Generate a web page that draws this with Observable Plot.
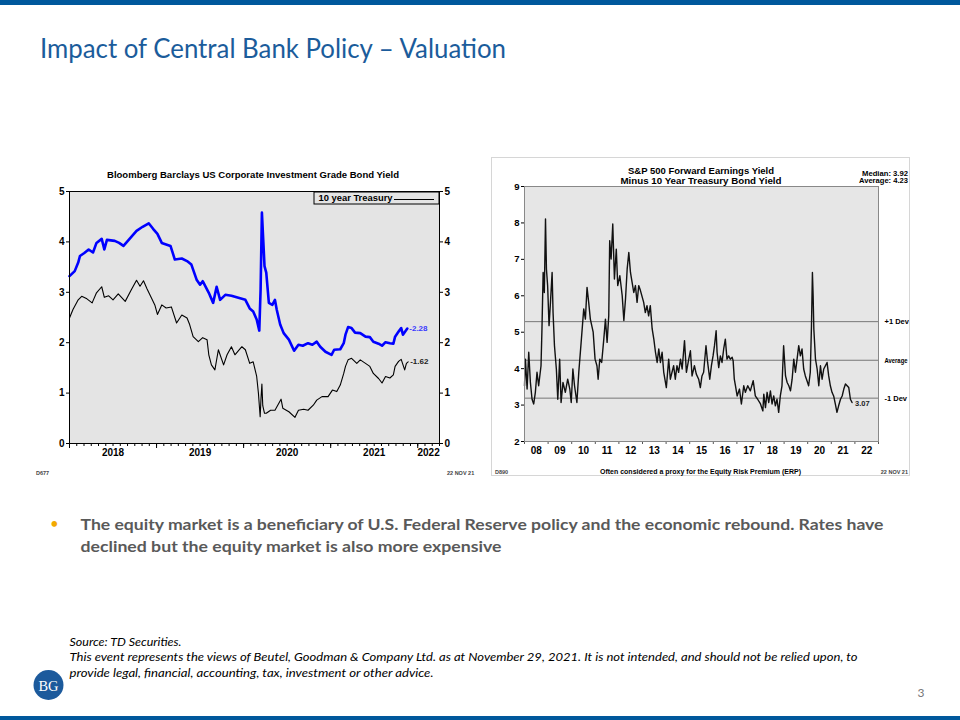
<!DOCTYPE html>
<html><head><meta charset="utf-8">
<script src="https://cdn.jsdelivr.net/npm/d3@7"></script>
<script src="https://cdn.jsdelivr.net/npm/@observablehq/plot@0.6"></script>
<style>
body{margin:0;background:#fff;}
#slide{position:relative;width:960px;height:720px;overflow:hidden;background:#fff;}
.abs{position:absolute;}
</style></head><body>
<div id="slide">
  <div class="abs" style="left:0;top:0;width:960px;height:5px;background:#00589c"></div>
  <div class="abs" style="left:0;top:716px;width:960px;height:4px;background:#00589c"></div>
  <div id="left" class="abs" style="left:30px;top:160px;width:430px;height:320px"></div>
  <div id="right" class="abs" style="left:491px;top:157px;width:419px;height:319px"></div>
  <svg id="overlay" class="abs" style="left:0;top:0" width="960" height="720"></svg>
</div>
<script>
// ---------- Left chart data: Bloomberg Barclays US Corporate IG Bond Yield vs 10y Treasury ----------
const corpDates = [2018.00,2018.06,2018.10,2018.12,2018.17,2018.22,2018.27,2018.31,2018.37,2018.40,2018.43,2018.52,2018.57,2018.62,2018.71,2018.77,2018.84,2018.91,2018.96,2019.01,2019.06,2019.16,2019.21,2019.29,2019.35,2019.40,2019.46,2019.50,2019.53,2019.60,2019.65,2019.69,2019.73,2019.79,2019.86,2019.94,2020.02,2020.07,2020.11,2020.15,2020.18,2020.195,2020.21,2020.225,2020.24,2020.26,2020.29,2020.33,2020.36,2020.38,2020.42,2020.46,2020.52,2020.58,2020.63,2020.68,2020.74,2020.79,2020.84,2020.88,2020.94,2021.01,2021.04,2021.11,2021.15,2021.17,2021.20,2021.24,2021.28,2021.34,2021.40,2021.45,2021.49,2021.55,2021.59,2021.63,2021.68,2021.72,2021.74,2021.78,2021.81,2021.83,2021.88];
const corpYield = [3.32,3.42,3.59,3.72,3.78,3.85,3.79,3.98,4.06,3.85,4.04,4.02,3.98,3.92,4.10,4.22,4.30,4.37,4.26,4.16,3.98,3.92,3.65,3.67,3.62,3.55,3.25,3.15,3.22,2.99,2.79,3.11,2.85,2.95,2.93,2.89,2.85,2.68,2.62,2.46,2.24,3.05,4.58,4.05,3.52,3.39,2.79,2.75,2.85,2.66,2.36,2.19,2.06,1.84,1.96,1.94,1.99,1.96,2.02,1.92,1.82,1.76,1.86,1.87,1.99,2.16,2.31,2.29,2.20,2.19,2.12,2.11,2.02,1.98,1.94,2.01,1.99,1.98,2.12,2.22,2.29,2.16,2.28];
const tsyDates = [2018.00,2018.04,2018.10,2018.14,2018.20,2018.26,2018.31,2018.37,2018.40,2018.45,2018.50,2018.56,2018.64,2018.71,2018.77,2018.81,2018.85,2018.89,2018.94,2018.98,2019.01,2019.06,2019.11,2019.17,2019.23,2019.29,2019.35,2019.38,2019.42,2019.48,2019.53,2019.58,2019.60,2019.63,2019.67,2019.71,2019.77,2019.81,2019.86,2019.90,2019.98,2020.02,2020.07,2020.11,2020.15,2020.17,2020.19,2020.20,2020.21,2020.22,2020.24,2020.26,2020.31,2020.36,2020.43,2020.45,2020.52,2020.59,2020.63,2020.69,2020.74,2020.80,2020.84,2020.90,2020.97,2021.02,2021.07,2021.11,2021.15,2021.17,2021.20,2021.24,2021.30,2021.34,2021.40,2021.45,2021.49,2021.55,2021.59,2021.63,2021.68,2021.72,2021.74,2021.78,2021.81,2021.85,2021.87,2021.89];
const tsyYield = [2.49,2.66,2.85,2.92,2.87,2.79,2.99,3.11,2.90,2.93,2.85,2.97,2.82,3.05,3.24,3.12,3.23,3.07,2.89,2.75,2.56,2.75,2.69,2.71,2.39,2.55,2.49,2.36,2.12,2.02,2.10,2.06,1.76,1.56,1.46,1.86,1.56,1.76,1.92,1.76,1.92,1.86,1.59,1.62,1.33,1.00,0.53,0.90,1.18,0.75,0.60,0.60,0.66,0.66,0.88,0.70,0.63,0.52,0.66,0.68,0.66,0.76,0.86,0.93,0.93,1.06,1.03,1.16,1.39,1.53,1.66,1.69,1.59,1.66,1.59,1.53,1.39,1.29,1.20,1.33,1.30,1.36,1.53,1.63,1.67,1.46,1.59,1.62];
const leftYTicks = [0,1,2,3,4,5];
const leftYearTicks = [2018,2019,2020,2021,2022];
const leftYearLabels = ["2018","2019","2020","2021","2022"];
const leftEndLabels = ["2.28","1.62"];

// ---------- Right chart data: S&P 500 forward earnings yield minus 10y Treasury ----------
const erpDates = [2008.00,2008.04,2008.11,2008.18,2008.25,2008.32,2008.39,2008.46,2008.53,2008.60,2008.70,2008.74,2008.79,2008.84,2008.89,2008.93,2008.98,2009.04,2009.10,2009.17,2009.21,2009.27,2009.35,2009.41,2009.49,2009.55,2009.63,2009.73,2009.83,2009.92,2009.98,2010.05,2010.12,2010.22,2010.30,2010.40,2010.51,2010.58,2010.65,2010.72,2010.79,2010.91,2010.99,2011.07,2011.12,2011.19,2011.27,2011.36,2011.43,2011.50,2011.57,2011.61,2011.67,2011.74,2011.81,2011.89,2011.95,2012.04,2012.14,2012.21,2012.28,2012.35,2012.42,2012.49,2012.56,2012.63,2012.70,2012.77,2012.84,2012.91,2013.05,2013.12,2013.19,2013.26,2013.33,2013.41,2013.48,2013.55,2013.62,2013.69,2013.76,2013.83,2013.90,2014.01,2014.11,2014.18,2014.25,2014.32,2014.39,2014.46,2014.53,2014.61,2014.68,2014.78,2014.86,2014.96,2015.03,2015.10,2015.20,2015.28,2015.38,2015.45,2015.52,2015.59,2015.69,2015.76,2015.85,2015.92,2015.99,2016.05,2016.12,2016.16,2016.23,2016.30,2016.37,2016.44,2016.51,2016.58,2016.65,2016.72,2016.80,2016.84,2016.89,2016.94,2017.01,2017.11,2017.19,2017.29,2017.36,2017.46,2017.57,2017.69,2017.78,2017.88,2018.00,2018.10,2018.14,2018.21,2018.28,2018.35,2018.42,2018.49,2018.56,2018.63,2018.70,2018.77,2018.84,2018.91,2018.98,2019.06,2019.13,2019.20,2019.27,2019.34,2019.41,2019.48,2019.55,2019.62,2019.69,2019.76,2019.83,2019.90,2019.97,2020.04,2020.11,2020.16,2020.20,2020.23,2020.26,2020.33,2020.40,2020.47,2020.54,2020.61,2020.68,2020.75,2020.82,2020.89,2020.96,2021.03,2021.10,2021.17,2021.24,2021.31,2021.39,2021.46,2021.53,2021.60,2021.67,2021.74,2021.81,2021.88];
const erpValues = [3.53,4.26,3.44,4.45,3.62,3.16,3.03,3.35,3.90,3.53,4.08,5.09,6.64,6.09,8.11,6.73,6.28,5.18,5.82,6.64,5.54,4.63,3.99,3.16,4.26,3.07,3.62,3.35,3.71,3.44,3.07,3.99,3.53,3.07,3.90,4.72,5.64,5.36,6.23,5.82,5.36,5.00,4.26,4.08,3.71,4.26,4.17,4.81,5.36,4.72,5.45,7.51,7.01,7.97,6.46,7.28,6.28,6.55,6.00,5.32,5.91,6.73,7.19,6.64,6.37,6.09,6.28,5.82,6.28,6.15,5.82,5.54,5.73,5.45,5.73,5.09,4.81,4.45,4.17,4.54,4.17,4.45,3.90,3.48,4.26,3.71,3.90,4.08,3.71,4.08,3.90,4.26,3.99,4.77,3.90,4.26,4.49,3.80,4.08,3.85,3.71,3.48,3.80,3.90,4.63,4.17,3.71,4.08,4.35,4.63,5.04,4.45,4.03,4.35,4.17,4.54,4.81,4.26,4.35,4.26,4.31,4.22,3.71,3.53,3.25,3.44,3.03,3.53,3.35,3.53,3.39,3.67,3.25,3.16,3.03,2.84,3.30,2.93,3.35,3.07,3.39,3.03,3.25,2.98,3.16,2.80,3.25,3.53,4.63,3.80,3.62,3.53,3.39,3.71,4.26,3.90,4.26,4.63,4.35,4.54,3.99,3.80,3.67,3.53,3.90,5.18,6.64,6.00,5.09,4.26,3.99,3.53,4.08,3.71,3.99,4.08,4.17,3.80,3.53,3.35,3.25,3.03,2.80,2.98,3.16,3.25,3.44,3.58,3.53,3.48,3.16,3.07];
const devValues = [5.29,4.23,3.19];
const devLabels = ["+1 Dev","Average","-1 Dev"];
const rightYTicks = [2,3,4,5,6,7,8,9];
const rightYearTicks = [2008,2009,2010,2011,2012,2013,2014,2015,2016,2017,2018,2019,2020,2021,2022,2023];
const rightYearLabels = ["08","09","10","11","12","13","14","15","16","17","18","19","20","21","22"];
const rightEndLabel = "3.07";

const FONT = "'Liberation Sans', Arial, sans-serif";
const zipT = (t, v) => t.map((d, i) => ({t: d, v: v[i]}));

// ---------- Left plot ----------
const lEnd = 2022.25;
const leftLabelPos = leftYearTicks.map(y => (y + Math.min(y + 1, lEnd)) / 2);
const leftLabelMap = new Map(leftLabelPos.map((p, i) => [p, leftYearLabels[i]]));
const monthTicks = d3.range(0, 52).map(m => 2018 + m / 12);
const corp = zipT(corpDates, corpYield);
const tsy = zipT(tsyDates, tsyYield);

const L = Plot.plot({
  width: 430, height: 320,
  marginLeft: 39, marginRight: 21, marginTop: 31, marginBottom: 37,
  style: {background: "white", fontFamily: FONT, fontSize: "9px", color: "#000", overflow: "visible"},
  x: {domain: [2018, lEnd]},
  y: {domain: [0, 5]},
  marks: [
    Plot.frame({fill: "#e4e4e4"}),
    Plot.axisY({anchor: "left", ticks: leftYTicks, tickSize: 3, tickPadding: 2, tickFormat: d => d, fontWeight: "bold", fontSize: 10, label: null}),
    Plot.axisY({anchor: "right", ticks: leftYTicks, tickSize: 3, tickPadding: 2, tickFormat: d => d, fontWeight: "bold", fontSize: 10, label: null}),
    Plot.axisX({ticks: monthTicks, tickSize: 3, tickFormat: () => "", label: null}),
    Plot.axisX({ticks: leftYearTicks, tickSize: 5, tickFormat: () => "", label: null}),
    Plot.axisX({ticks: leftLabelPos, tickSize: 0, tickPadding: 5, tickFormat: d => leftLabelMap.get(d), fontWeight: "bold", fontSize: 10, label: null}),
    Plot.line(tsy, {x: "t", y: "v", stroke: "#000", strokeWidth: 1.1}),
    Plot.line(corp, {x: "t", y: "v", stroke: "#0000ff", strokeWidth: 2.6}),
    Plot.frame({stroke: "#000", strokeWidth: 1}),
    Plot.text([corp[corp.length - 1]], {x: "t", y: "v", text: () => "-" + leftEndLabels[0], dx: 2, textAnchor: "start", fill: "#3a3aff", fontWeight: "bold", fontSize: 8}),
    Plot.text([tsy[tsy.length - 1]], {x: "t", y: "v", text: () => "-" + leftEndLabels[1], dx: 2, textAnchor: "start", fill: "#222", fontWeight: "bold", fontSize: 8})
  ]
});
document.getElementById("left").appendChild(L);

// ---------- Right plot ----------
const rightLabelPos = rightYearLabels.map((_, i) => 2008.5 + i);
const rightLabelMap = new Map(rightLabelPos.map((p, i) => [p, rightYearLabels[i]]));
const erp = zipT(erpDates, erpValues);
const R = Plot.plot({
  width: 419, height: 319,
  marginLeft: 33, marginRight: 32, marginTop: 29, marginBottom: 35,
  style: {background: "white", fontFamily: FONT, fontSize: "9px", color: "#000", overflow: "visible"},
  x: {domain: [2008, 2023]},
  y: {domain: [2, 9]},
  marks: [
    Plot.frame({fill: "#e6e6e6"}),
    Plot.ruleY(devValues, {stroke: "#777", strokeWidth: 1}),
    Plot.axisY({anchor: "left", ticks: rightYTicks, tickSize: 3, tickPadding: 2, tickFormat: d => d, fontWeight: "bold", fontSize: 9.5, label: null}),
    Plot.axisX({ticks: rightYearTicks, tickSize: 3, tickFormat: () => "", stroke: "#555", label: null}),
    Plot.axisX({ticks: rightLabelPos, tickSize: 0, tickPadding: 5, tickFormat: d => rightLabelMap.get(d), fontWeight: "bold", fontSize: 10, label: null}),
    Plot.line(erp, {x: "t", y: "v", stroke: "#111", strokeWidth: 1.4}),
    Plot.frame({stroke: "#888", strokeWidth: 1}),
    Plot.text(devValues, {x: () => 2023, y: d => d, text: (d, i) => devLabels[i], dx: 6, textAnchor: "start", fontWeight: "bold", fontSize: 7.5}),
    Plot.text([erp[erp.length - 1]], {x: "t", y: "v", text: () => rightEndLabel, dx: 3, dy: 1, textAnchor: "start", fontWeight: "bold", fontSize: 7.5, fill: "#222"})
  ]
});
document.getElementById("right").appendChild(R);
// squeeze the long right-edge label so it stays inside the panel
R.querySelectorAll("text").forEach(t => {
  if (t.textContent === devLabels[1]) { t.setAttribute("textLength", 23); t.setAttribute("lengthAdjust", "spacingAndGlyphs"); }
});

// ---------- Overlay texts ----------
const ov = d3.select("#overlay");
function txt(s, o) {
  const t = ov.append("text").text(s)
    .attr("x", o.x).attr("y", o.y)
    .attr("font-size", o.size)
    .attr("font-family", o.font || FONT)
    .attr("font-weight", o.weight || "normal")
    .attr("font-style", o.style || "normal")
    .attr("fill", o.fill || "#000")
    .attr("text-anchor", o.anchor || "start");
  if (o.len) t.attr("textLength", o.len).attr("lengthAdjust", "spacingAndGlyphs");
  return t;
}
const SLIDE = "Lato, 'Open Sans', sans-serif";
txt("Impact of Central Bank Policy \u2013 Valuation", {x: 40, y: 57.5, size: 26, font: SLIDE, fill: "#1b5c9b", len: 466});

// left chart annotations
txt("Bloomberg Barclays US Corporate Investment Grade Bond Yield", {x: 253, y: 177.5, size: 9, weight: "bold", anchor: "middle", len: 292});
ov.append("rect").attr("x", 314).attr("y", 192).attr("width", 125).attr("height", 12).attr("fill", "#e4e4e4").attr("stroke", "#000").attr("stroke-width", 1);
txt("10 year Treasury", {x: 318.5, y: 201.2, size: 9, weight: "bold", len: 74});
ov.append("line").attr("x1", 394).attr("x2", 434).attr("y1", 199.5).attr("y2", 199.5).attr("stroke", "#000").attr("stroke-width", 1.1);
txt("D677", {x: 36, y: 475, size: 5.5, weight: "bold", fill: "#444"});
txt("22 NOV 21", {x: 447, y: 475, size: 5.5, weight: "bold", fill: "#444"});

// right chart annotations
ov.append("rect").attr("x", 491.5).attr("y", 157.5).attr("width", 418).attr("height", 318).attr("fill", "none").attr("stroke", "#d6d6d6");
txt("S&P 500 Forward Earnings Yield", {x: 701, y: 173.5, size: 9, weight: "bold", anchor: "middle", len: 146});
txt("Minus 10 Year Treasury Bond Yield", {x: 701, y: 183.5, size: 9, weight: "bold", anchor: "middle", len: 161});
txt("Median: 3.92", {x: 908, y: 175.5, size: 7, weight: "bold", anchor: "end", len: 46});
txt("Average: 4.23", {x: 908, y: 183, size: 7, weight: "bold", anchor: "end", len: 49});
txt("Often considered a proxy for the Equity Risk Premium (ERP)", {x: 700.5, y: 473.5, size: 7.5, weight: "bold", anchor: "middle", len: 201});
txt("D890", {x: 495, y: 474, size: 5.5, weight: "bold", fill: "#444"});
txt("22 NOV 21", {x: 908, y: 474, size: 5.5, weight: "bold", fill: "#444", anchor: "end"});

// bullet
txt("\u2022", {x: 50, y: 529, size: 15, font: SLIDE, fill: "#f2a900"});
txt("The equity market is a beneficiary of U.S. Federal Reserve policy and the economic rebound. Rates have", {x: 80.5, y: 530, size: 15, font: SLIDE, weight: "bold", fill: "#595959", len: 803});
txt("declined but the equity market is also more expensive", {x: 80.5, y: 552, size: 15, font: SLIDE, weight: "bold", fill: "#595959", len: 421});

// footer
txt("Source: TD Securities.", {x: 69.5, y: 645.5, size: 11, font: SLIDE, style: "italic", fill: "#000", len: 112});
txt("This event represents  the views of Beutel,  Goodman & Company Ltd. as at November 29, 2021. It is not intended, and should not be relied upon, to", {x: 69.5, y: 660.5, size: 11, font: SLIDE, style: "italic", fill: "#000", len: 788});
txt("provide legal, financial, accounting, tax, investment or other advice.", {x: 69.5, y: 677, size: 11, font: SLIDE, style: "italic", fill: "#000", len: 364});
txt("3", {x: 921, y: 697, size: 12, font: SLIDE, fill: "#777", anchor: "middle"});
ov.append("circle").attr("cx", 48.5).attr("cy", 685).attr("r", 15).attr("fill", "#1c5a9c");
txt("BG", {x: 48.5, y: 690.5, size: 15, font: "'Liberation Serif', 'DejaVu Serif', serif", fill: "#fff", anchor: "middle", len: 20});
</script>
</body></html>
